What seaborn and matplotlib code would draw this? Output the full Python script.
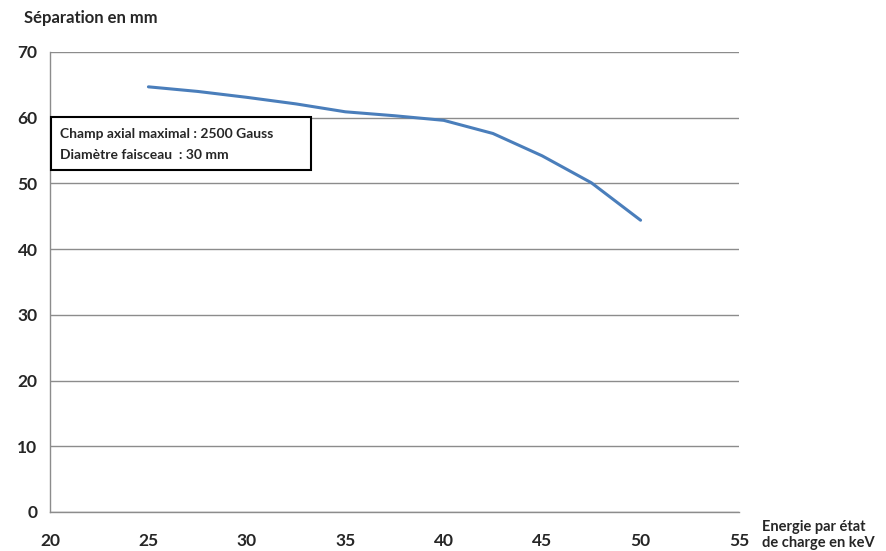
import numpy as np
import pandas as pd
import seaborn as sns
import matplotlib.pyplot as plt
from matplotlib.patches import Rectangle

# values
energie = [25, 27.5, 30, 32.5, 35, 37.5, 40, 42.5, 45, 47.5, 50]
separation = [64.7, 64.0, 63.1, 62.1, 60.9, 60.3, 59.6, 57.6, 54.2, 50.1, 44.4]

xticks = [20, 25, 30, 35, 40, 45, 50, 55]
yticks = [0, 10, 20, 30, 40, 50, 60, 70]

sns.set_style('white')
plt.rcParams['font.family'] = ['Lato', 'DejaVu Sans']

df = pd.DataFrame({'energie': energie, 'separation': separation})

W, H = 887, 551
fig = plt.figure(figsize=(W / 100, H / 100), dpi=100)
ax = fig.add_axes([50 / W, 1 - 512 / H, 689 / W, 460 / H])

sns.lineplot(data=df, x='energie', y='separation', color='#4A7EBB',
             linewidth=2.2, ax=ax)

ax.set_xlim(20, 55)
ax.set_ylim(0, 70)
ax.set_xticks(xticks)
ax.set_yticks(yticks)
ax.yaxis.grid(True, color='#8c8c8c', linewidth=1.0)
ax.xaxis.grid(False)

for side in ['top', 'right']:
    ax.spines[side].set_visible(False)
for side in ['left', 'bottom']:
    ax.spines[side].set_color('#8c8c8c')
    ax.spines[side].set_linewidth(1.0)

ax.tick_params(axis='both', direction='out', length=5, width=1.0,
               color='#8c8c8c', labelsize=12.5)
ax.tick_params(axis='x', pad=10)
ax.tick_params(axis='y', pad=4)
for lab in ax.get_xticklabels() + ax.get_yticklabels():
    lab.set_fontweight('bold')

ax.set_xlabel('')
ax.set_ylabel('')

fig.text(24 / W, 1 - 18 / H, 'Séparation en mm', fontsize=12,
         fontweight='bold', ha='left', va='center')
fig.text(762 / W, 1 - 535 / H, 'Energie par état\nde charge en keV',
         fontsize=10.5, fontweight='bold', ha='left', va='center',
         linespacing=1.15)

# annotation box
fig.patches.append(Rectangle((51 / W, 1 - 170 / H), 260 / W, 53 / H,
                             transform=fig.transFigure, facecolor='white',
                             edgecolor='black', linewidth=1.5, zorder=5))
fig.text(60 / W, 1 - 134 / H, 'Champ axial maximal : 2500 Gauss',
         fontsize=10, fontweight='bold', ha='left', va='center', zorder=6)
fig.text(60 / W, 1 - 155 / H, 'Diamètre faisceau  : 30 mm',
         fontsize=10, fontweight='bold', ha='left', va='center', zorder=6)

fig.savefig('out.png', dpi=100)
